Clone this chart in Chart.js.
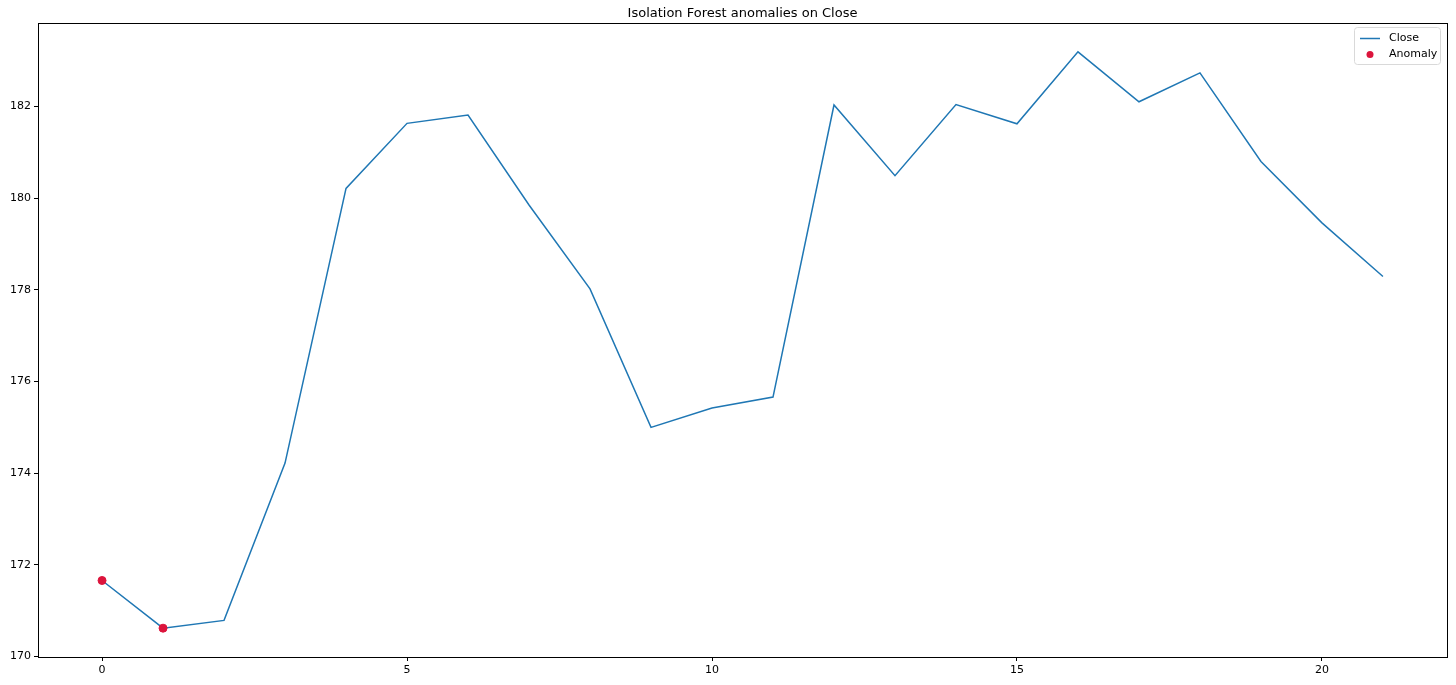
<!DOCTYPE html>
<html>
<head>
<meta charset="utf-8">
<script src="https://cdn.jsdelivr.net/npm/chart.js@4.4.1/dist/chart.umd.min.js"></script>
<style>
  html, body { margin: 0; padding: 0; background: #fff; }
  #wrap { width: 1456px; height: 685px; }
</style>
</head>
<body>
<div id="wrap"><canvas id="chart"></canvas></div>
<script>
const titleText = 'Isolation Forest anomalies on Close';
const positions = [0, 1, 2, 3, 4, 5, 6, 7, 8, 9, 10, 11, 12, 13, 14, 15, 16, 17, 18, 19, 20, 21];
const closeValues = [171.66, 170.62, 170.79, 174.22, 180.21, 181.63, 181.81, 179.85, 178.02, 175.0, 175.42, 175.66,
                     182.03, 180.49, 182.04, 181.62, 183.19, 182.10, 182.73, 180.80, 179.46, 178.29];
const anomalyIdx = [0, 1];
const xTicks = [0, 5, 10, 15, 20];
const yTicks = [170, 172, 174, 176, 178, 180, 182];

const lineColor = '#1f77b4';
const anomalyColor = '#dc143c';
const font = "'DejaVu Sans', sans-serif";

// matplotlib style 5% margins
const xMin = Math.min(...positions), xMax = Math.max(...positions);
const yMin = Math.min(...closeValues), yMax = Math.max(...closeValues);
const xPad = (xMax - xMin) * 0.05, yPad = (yMax - yMin) * 0.05;

const closePoints = positions.map((x, i) => ({ x, y: closeValues[i] }));
const anomalyPoints = anomalyIdx.map(i => ({ x: positions[i], y: closeValues[i] }));

// box around the plot, title centred over the axes, legend inside the plot
const framePlugin = {
    id: 'frame',
    afterDraw(chart) {
        const { ctx, chartArea: a } = chart;
        ctx.save();
        ctx.strokeStyle = '#000';
        ctx.lineWidth = 1;
        ctx.strokeRect(Math.round(a.left) + 0.5, Math.round(a.top) + 0.5,
                       Math.round(a.right - a.left), Math.round(a.bottom - a.top));

        ctx.fillStyle = '#000';
        ctx.font = '13px ' + font;
        ctx.textAlign = 'center';
        ctx.textBaseline = 'alphabetic';
        ctx.fillText(titleText, (a.left + a.right) / 2, a.top - 6);

        // legend
        const w = 86, h = 37;
        const lx = Math.round(a.right) - w - 7, ly = Math.round(a.top) + 4;
        ctx.fillStyle = 'rgba(255,255,255,0.8)';
        ctx.strokeStyle = '#d9d9d9';
        ctx.beginPath();
        ctx.roundRect(lx + 0.5, ly + 0.5, w, h, 3);
        ctx.fill();
        ctx.stroke();

        ctx.strokeStyle = lineColor;
        ctx.lineWidth = 1.5;
        ctx.beginPath();
        ctx.moveTo(lx + 6, ly + 11.5);
        ctx.lineTo(lx + 26, ly + 11.5);
        ctx.stroke();

        ctx.fillStyle = anomalyColor;
        ctx.beginPath();
        ctx.arc(lx + 16, ly + 27.5, 3.5, 0, Math.PI * 2);
        ctx.fill();

        ctx.fillStyle = '#000';
        ctx.font = '11px ' + font;
        ctx.textAlign = 'left';
        ctx.textBaseline = 'middle';
        ctx.fillText('Close', lx + 35, ly + 11);
        ctx.fillText('Anomaly', lx + 35, ly + 27);
        ctx.restore();
    }
};

const ctx = document.getElementById('chart').getContext('2d');
new Chart(ctx, {
    type: 'scatter',
    data: {
        datasets: [
            {
                label: 'Close',
                data: closePoints,
                showLine: true,
                borderColor: lineColor,
                borderWidth: 1.5,
                pointRadius: 0,
                pointHoverRadius: 0,
                tension: 0,
                order: 2
            },
            {
                label: 'Anomaly',
                data: anomalyPoints,
                backgroundColor: anomalyColor,
                borderColor: anomalyColor,
                pointRadius: 4,
                order: 1
            }
        ]
    },
    options: {
        responsive: true,
        maintainAspectRatio: false,
        animation: false,
        layout: { padding: { top: 23, right: 9, bottom: 0, left: 0 } },
        plugins: {
            legend: { display: false },
            tooltip: { enabled: false },
            title: { display: false }
        },
        scales: {
            x: {
                type: 'linear',
                min: xMin - xPad,
                max: xMax + xPad,
                afterBuildTicks: s => { s.ticks = xTicks.map(v => ({ value: v })); },
                afterFit: s => { s.height = 28; },
                grid: { drawOnChartArea: false, drawTicks: true, tickLength: 4, color: '#000' },
                border: { display: false },
                ticks: { color: '#000', font: { family: font, size: 11 }, padding: 3, maxRotation: 0 }
            },
            y: {
                type: 'linear',
                min: yMin - yPad,
                max: yMax + yPad,
                afterBuildTicks: s => { s.ticks = yTicks.map(v => ({ value: v })); },
                afterFit: s => { s.width = 38; },
                grid: { drawOnChartArea: false, drawTicks: true, tickLength: 4, color: '#000' },
                border: { display: false },
                ticks: { color: '#000', font: { family: font, size: 11 }, padding: 3 }
            }
        }
    },
    plugins: [framePlugin]
});
</script>
</body>
</html>
